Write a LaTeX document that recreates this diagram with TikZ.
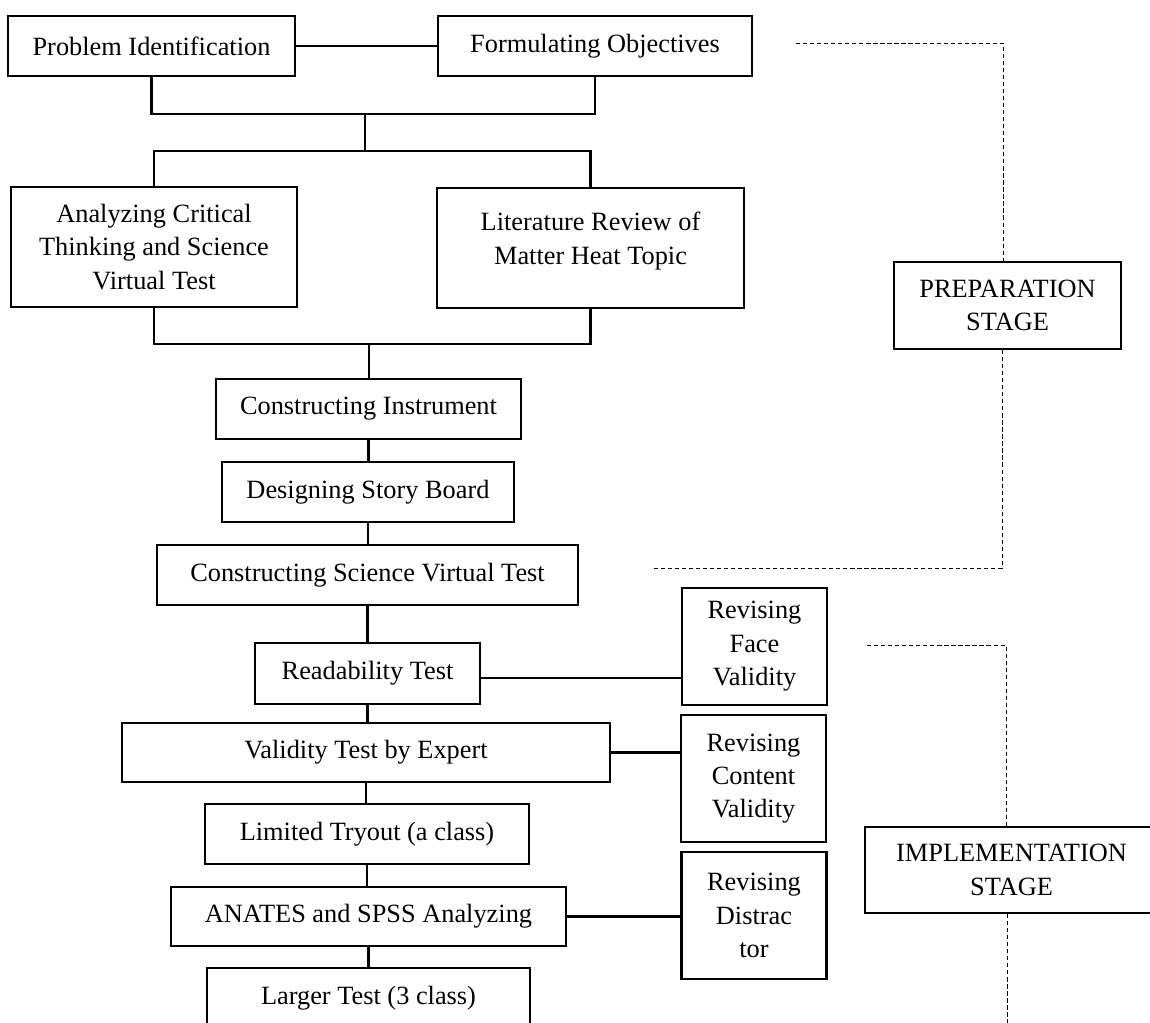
\documentclass[tikz,border=0pt]{standalone}
\usepackage{fontspec}
\setmainfont{Liberation Serif}
\usetikzlibrary{positioning,calc}
\tikzset{
    box/.style={rectangle, draw, line width=1.2pt, inner sep=0pt, align=center,
        font=\fontsize{15}{19}\selectfont},
    link/.style={line width=1.2pt},
    guide/.style={line width=0.5pt, dash pattern=on 2.4pt off 1.6pt}
}

\begin{document}
\begin{tikzpicture}[x=0.02cm,y=-0.02cm,
wide/.style={box, minimum height=1.2cm},
side/.style={box, minimum width=2.9cm, minimum height=2.54cm}]
\useasboundingbox (0,0) rectangle (1150,1023);
\clip (0,0) rectangle (1150,1023);
% preparation part
\node [wide, minimum width=5.74cm] (PI) at (151.5,46) {Problem Identification};
\node [wide, minimum width=6.28cm] (FO) at (595,46) {Formulating Objectives};
\node [box, minimum width=5.72cm, minimum height=2.4cm] (AC) at (154,247) {Analyzing Critical\\Thinking and Science\\Virtual Test};
\node [box, minimum width=6.14cm, minimum height=2.4cm] (LR) at (590.5,248) {Literature Review of\\Matter Heat Topic\\[-8pt]\mbox{}};
\node [wide, minimum width=6.1cm] (CI) at (368.5,409) {Constructing Instrument};
\node [wide, minimum width=5.84cm] (DS) at (368,492) {Designing Story Board};
\node [wide, minimum width=8.42cm] (CS) at (367.5,575) {Constructing Science Virtual Test};
% implementation part
\node [wide, minimum width=4.5cm, minimum height=1.22cm] (RT) at (367.5,673.5) {Readability Test};
\node [wide, minimum width=9.76cm, minimum height=1.18cm] (VE) at (366,752.5) {Validity Test by Expert};
\node [wide, minimum width=6.48cm] (LT) at (367,834) {Limited Tryout (a class)};
\node [wide, minimum width=7.9cm, minimum height=1.18cm] (AN) at (368.5,916.5) {ANATES and SPSS Analyzing};
\node [wide, minimum width=6.46cm] (LG) at (368.5,998) {Larger Test (3 class)};
\node [side, minimum height=2.34cm] (RF) at (754.5,646.5) {Revising\\Face\\Validity};
\node [side] (RC) at (753.5,778.5) {Revising\\Content\\Validity};
\node [side] (RD) at (754,915.5) {Revising\\Distrac\\tor};
% stages
\node [box, minimum width=4.54cm, minimum height=1.74cm] (PS) at (1007.5,305.5) {PREPARATION\\STAGE};
\node [box, minimum width=5.86cm, minimum height=1.72cm] (IS) at (1011.5,870) {IMPLEMENTATION\\STAGE};
% junctions
\coordinate (J1) at (365,114);
\coordinate (J2) at (365,151);
\coordinate (J3) at (369,344);
\draw [link] (PI.east) -- (FO.west);
\draw [link] (PI.south) |- (J1) -| (FO.south);
\draw [link] (J1) -- (J2);
\draw [link] (AC.north) |- (J2) -| (LR.north);
\draw [link] (AC.south) |- (J3) -| (LR.south);
\draw [link] (J3) -- (J3 |- CI.north);
\foreach \a/\b in {CI/DS, DS/CS, CS/RT, RT/VE, VE/LT, LT/AN, AN/LG}
\draw [link] (\a.south) -- (\a.south |- \b.north);
\coordinate (RTout) at ($(RT.east)+(0,4.5)$);
\draw [link] (RTout) -- (RTout -| RF.west);
\foreach \m/\r in {VE/RC, AN/RD}
\draw [link] (\m.east) -- (\m.east -| \r.west);
% dashed stage brackets
\coordinate (P0) at (796,43);
\coordinate (P1) at (1003,43);
\coordinate (P2) at (1002,568);
\coordinate (P3) at (651,568);
\coordinate (I0) at (867,645);
\coordinate (I1) at (1006,645);
\coordinate (I2) at (1007,1023);
\draw [guide] (P0) -- (P1) -- (P1 |- PS.north);
\draw [guide] (P2 |- PS.south) -- (P2) -- (P3);
\draw [guide] (I0) -- (I1) -- (I1 |- IS.north);
\draw [guide] (I2 |- IS.south) -- (I2);
\end{tikzpicture}
\end{document}
